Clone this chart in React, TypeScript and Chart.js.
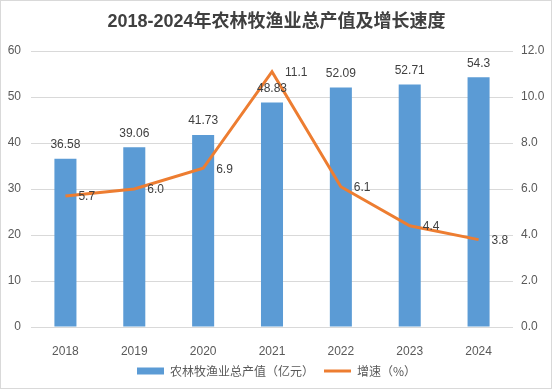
import React, { useEffect, useRef } from "react";
import { Chart, registerables } from "chart.js";

Chart.register(...registerables);

const years = ["2018", "2019", "2020", "2021", "2022", "2023", "2024"];
const outputValues = [36.58, 39.06, 41.73, 48.83, 52.09, 52.71, 54.3];
const outputLabels = ["36.58", "39.06", "41.73", "48.83", "52.09", "52.71", "54.3"];
const growthValues = [5.7, 6.0, 6.9, 11.1, 6.1, 4.4, 3.8];
const growthLabels = ["5.7", "6.0", "6.9", "11.1", "6.1", "4.4", "3.8"];
const titleText = "2018-2024年农林牧渔业总产值及增长速度";
const barName = "农林牧渔业总产值（亿元）";
const lineName = "增速（%）";

const FONT = "'Liberation Sans', 'Noto Sans CJK SC', sans-serif";
const CJK = "'Noto Sans CJK SC', 'Liberation Sans', sans-serif";

const bgPlugin = {
  id: "bgBorder",
  beforeDraw(chart: any) {
    const ctx = chart.ctx;
    ctx.save();
    ctx.fillStyle = "#ffffff";
    ctx.fillRect(0, 0, chart.width, chart.height);
    ctx.strokeStyle = "#d9d9d9";
    ctx.lineWidth = 1;
    ctx.strokeRect(0.5, 0.5, 551, 388);
    ctx.restore();
  },
};

const labelPlugin = {
  id: "valueLabels",
  afterDatasetsDraw(chart: any) {
    const ctx = chart.ctx;
    ctx.save();
    ctx.font = `12px ${FONT}`;
    ctx.fillStyle = "#404040";
    const barMeta = chart.getDatasetMeta(0);
    ctx.textAlign = "center";
    ctx.textBaseline = "middle";
    barMeta.data.forEach((el: any, i: number) => {
      ctx.fillText(outputLabels[i], el.x, el.y - 14);
    });
    const lineMeta = chart.getDatasetMeta(1);
    ctx.textAlign = "left";
    lineMeta.data.forEach((el: any, i: number) => {
      ctx.fillText(growthLabels[i], el.x + 13, el.y + 1);
    });
    ctx.restore();
  },
};

export default function App() {
  const ref = useRef<HTMLCanvasElement>(null);
  useEffect(() => {
    if (!ref.current) return;
    const chart = new Chart(ref.current, {
      data: {
        labels: years,
        datasets: [
          {
            type: "bar",
            label: barName,
            data: outputValues,
            backgroundColor: "#5B9BD5",
            yAxisID: "y",
            order: 1,
            barPercentage: 0.32,
            categoryPercentage: 1,
          },
          {
            type: "line",
            label: lineName,
            data: growthValues,
            borderColor: "#ED7D31",
            backgroundColor: "#ED7D31",
            borderWidth: 3,
            pointRadius: 0,
            tension: 0,
            yAxisID: "y1",
            order: 0,
          },
        ],
      } as any,
      options: {
        animation: false,
        responsive: false,
        events: [],
        layout: { padding: { top: 0, left: 0, right: 0, bottom: 4 } },
        plugins: {
          tooltip: { enabled: false },
          title: {
            display: true,
            text: titleText,
            color: "#404040",
            font: { size: 18, weight: "bold", family: FONT, lineHeight: 1.2 },
            padding: { top: 11.5, bottom: 17.9 },
          },
          legend: {
            position: "bottom",
            labels: {
              usePointStyle: true,
              pointStyleWidth: 27,
              boxHeight: 7,
              padding: 10,
              color: "#595959",
              font: { size: 12, family: CJK },
              sort: (a: any, b: any) => a.datasetIndex - b.datasetIndex,
              generateLabels: (chart: any) => {
                const items = Chart.defaults.plugins.legend.labels.generateLabels(chart);
                return items.map((it: any) => {
                  if (it.datasetIndex === 0) {
                    return { ...it, pointStyle: "rect", lineWidth: 0, strokeStyle: "#5B9BD5" };
                  }
                  return { ...it, pointStyle: "line", lineWidth: 3, strokeStyle: "#ED7D31" };
                });
              },
            },
          },
        },
        scales: {
          x: {
            grid: { display: false },
            border: { display: false },
            ticks: { color: "#595959", font: { size: 12, family: FONT }, padding: 9 },
            afterFit: (s: any) => {
              s.height = 28;
            },
          },
          y: {
            position: "left",
            min: 0,
            max: 60,
            ticks: { stepSize: 10, color: "#595959", font: { size: 12, family: FONT }, padding: 10 },
            grid: { color: "#d9d9d9", drawTicks: false },
            border: { display: false },
            afterFit: (s: any) => {
              s.width = 31;
            },
          },
          y1: {
            position: "right",
            min: 0,
            max: 12,
            ticks: {
              stepSize: 2,
              color: "#595959",
              font: { size: 12, family: FONT },
              padding: 8,
              callback: (v: any) => Number(v).toFixed(1),
            },
            grid: { display: false, drawTicks: false },
            border: { display: false },
            afterFit: (s: any) => {
              s.width = 40;
            },
          },
        },
      } as any,
      plugins: [bgPlugin, labelPlugin],
    });
    return () => chart.destroy();
  }, []);
  return (
    <div style={{ position: "absolute", left: 0, top: 0, width: 553, height: 391 }}>
      <canvas ref={ref} width={553} height={391} style={{ display: "block" }} />
    </div>
  );
}
